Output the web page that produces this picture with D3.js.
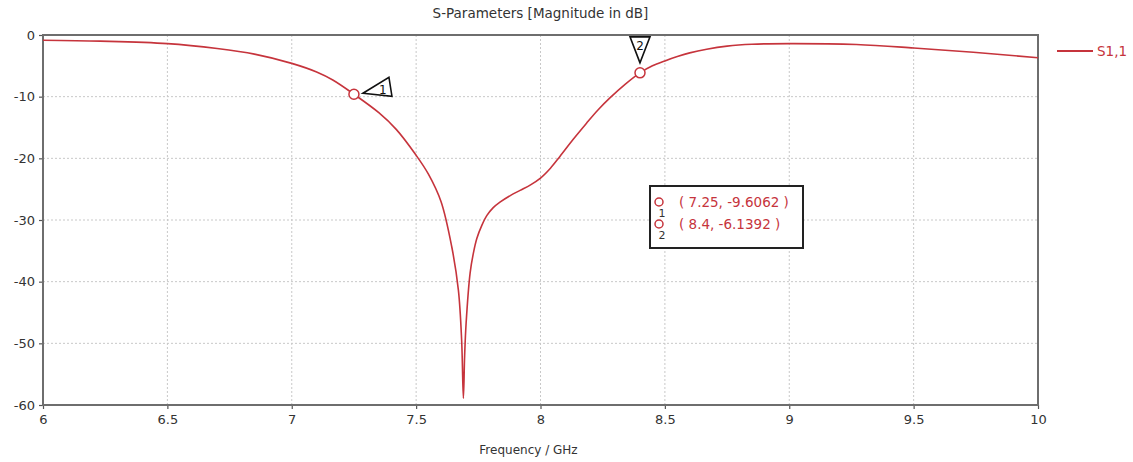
<!DOCTYPE html>
<html>
<head>
<meta charset="utf-8">
<script src="https://cdn.jsdelivr.net/npm/d3@7"></script>
<style>
  html, body { margin: 0; padding: 0; background: #fff; }
  svg { display: block; font-family: "DejaVu Sans", Verdana, sans-serif; }
</style>
</head>
<body>
<svg id="chart" width="1133" height="462"></svg>
<script>
// S1,1 reflection coefficient sweep
const freqGHz = [6.0, 6.23, 6.5, 6.7, 6.85, 7.0, 7.1, 7.165, 7.25, 7.35, 7.42, 7.5, 7.55, 7.6,
  7.643, 7.67, 7.683, 7.69, 7.695, 7.701, 7.717, 7.73, 7.744, 7.765, 7.784, 7.81, 7.837, 7.88,
  7.918, 7.96, 8.0, 8.04, 8.078, 8.13, 8.185, 8.23, 8.279, 8.34, 8.4, 8.45, 8.5, 8.55, 8.6,
  8.668, 8.75, 8.85, 9.0, 9.27, 9.5, 9.74, 10.0];
const s11dB = [-0.85, -1.0, -1.4, -2.2, -3.1, -4.6, -6.0, -7.3, -9.6062, -12.6, -15.3, -19.5, -22.6, -27.0,
  -34.3, -41.4, -49.5, -58.9, -52.0, -46.7, -38.6, -35.4, -33.0, -30.8, -29.3, -28.0, -27.1, -26.0,
  -25.2, -24.3, -23.2, -21.6, -19.7, -17.0, -14.3, -12.2, -10.2, -8.0, -6.1392, -5.0, -4.2, -3.5, -2.9,
  -2.3, -1.8, -1.5, -1.4, -1.55, -2.1, -2.8, -3.7];

// Marker readouts
const markerIds = ["1", "2"];
const markerFreq = [7.25, 8.4];
const markerVal = [-9.6062, -6.1392];

const xTicks = [6, 6.5, 7, 7.5, 8, 8.5, 9, 9.5, 10];
const yTicks = [0, -10, -20, -30, -40, -50, -60];

const seriesName = "S1,1";
const titleText = "S-Parameters [Magnitude in dB]";
const xLabel = "Frequency / GHz";

const curveColor = "#c6343c";
const textColor = "#333";

const svg = d3.select("#chart");
const W = 1133, H = 462;
const m = { left: 43, top: 35, right: 95, bottom: 57 };
const pw = W - m.left - m.right, ph = H - m.top - m.bottom;

const x = d3.scaleLinear().domain([6, 10]).range([m.left, m.left + pw]);
const y = d3.scaleLinear().domain([-60, 0]).range([m.top + ph, m.top]);

// Title
svg.append("text").attr("x", m.left + pw / 2).attr("y", 18)
  .attr("text-anchor", "middle").attr("font-size", 13.5).attr("fill", textColor)
  .text(titleText);

// Grid
const grid = svg.append("g");
grid.selectAll("line.gx").data(xTicks.slice(1, -1)).join("line")
  .attr("x1", d => x(d)).attr("x2", d => x(d))
  .attr("y1", m.top).attr("y2", m.top + ph)
  .attr("stroke", "#c8c8c8").attr("stroke-width", 1).attr("stroke-dasharray", "2,2");
grid.selectAll("line.gy").data(yTicks.slice(1, -1)).join("line")
  .attr("x1", m.left).attr("x2", m.left + pw)
  .attr("y1", d => y(d)).attr("y2", d => y(d))
  .attr("stroke", "#c8c8c8").attr("stroke-width", 1).attr("stroke-dasharray", "2,2");

// Axes
const xAxis = d3.axisBottom(x).tickValues(xTicks).tickSize(4).tickPadding(6)
  .tickFormat(d3.format("~g"));
const yAxis = d3.axisLeft(y).tickValues(yTicks).tickSize(4).tickPadding(4)
  .tickFormat(d => d3.format("~g")(d).replace("−", "-"));

const gx = svg.append("g").attr("transform", `translate(0,${m.top + ph})`).call(xAxis);
const gy = svg.append("g").attr("transform", `translate(${m.left},0)`).call(yAxis);
[gx, gy].forEach(g => {
  g.select(".domain").remove();
  g.selectAll(".tick line").attr("stroke", "#555").attr("stroke-width", 1.2);
  g.selectAll(".tick text").attr("fill", textColor).attr("font-size", 13)
    .attr("font-family", "DejaVu Sans, Verdana, sans-serif");
});

// Frame
svg.append("rect").attr("x", m.left).attr("y", m.top).attr("width", pw).attr("height", ph)
  .attr("fill", "none").attr("stroke", "#6e6e6e").attr("stroke-width", 2);

// X label
svg.append("text").attr("x", m.left + pw / 2 - 12).attr("y", 454)
  .attr("text-anchor", "middle").attr("font-size", 12).attr("fill", textColor)
  .text(xLabel);

// Curve
const pts = freqGHz.map((f, i) => [f, s11dB[i]]);
const line = d3.line().x(d => x(d[0])).y(d => y(d[1])).curve(d3.curveCatmullRom.alpha(0.5));
svg.append("path").datum(pts).attr("d", line)
  .attr("fill", "none").attr("stroke", curveColor).attr("stroke-width", 1.6);

// Markers on curve with flag labels
const flags = svg.append("g");
markerIds.forEach((id, i) => {
  const cx = x(markerFreq[i]), cy = y(markerVal[i]);
  if (i === 0) {
    // flag pointing left at the marker
    const tip = [cx + 9, cy - 1];
    flags.append("path")
      .attr("d", `M${tip[0]},${tip[1]} L${tip[0] + 26},${tip[1] - 16} L${tip[0] + 29},${tip[1] + 3} Z`)
      .attr("fill", "#fff").attr("stroke", "#111").attr("stroke-width", 1.6);
    flags.append("text").attr("x", tip[0] + 20).attr("y", tip[1] + 1)
      .attr("text-anchor", "middle").attr("font-size", 12).attr("fill", "#111").text(id);
  } else {
    // flag pointing down at the marker
    const tip = [cx, cy - 10];
    flags.append("path")
      .attr("d", `M${tip[0]},${tip[1]} L${tip[0] - 10},${tip[1] - 26} L${tip[0] + 10},${tip[1] - 26} Z`)
      .attr("fill", "#fff").attr("stroke", "#111").attr("stroke-width", 1.6);
    flags.append("text").attr("x", tip[0]).attr("y", tip[1] - 13)
      .attr("text-anchor", "middle").attr("font-size", 12).attr("fill", "#111").text(id);
  }
  flags.append("circle").attr("cx", cx).attr("cy", cy).attr("r", 5)
    .attr("fill", "#fff").attr("stroke", curveColor).attr("stroke-width", 1.5);
});

// Marker readout box
const bx = 650, by = 186, bw = 153, bh = 62;
const box = svg.append("g");
box.append("rect").attr("x", bx).attr("y", by).attr("width", bw).attr("height", bh)
  .attr("fill", "#fff").attr("stroke", "#222").attr("stroke-width", 2);
markerIds.forEach((id, i) => {
  const rowY = by + 16 + i * 22;
  box.append("circle").attr("cx", bx + 9).attr("cy", rowY).attr("r", 4)
    .attr("fill", "none").attr("stroke", curveColor).attr("stroke-width", 1.5);
  box.append("text").attr("x", bx + 12).attr("y", rowY + 15)
    .attr("text-anchor", "middle").attr("font-size", 11).attr("fill", "#333").text(id);
  box.append("text").attr("x", bx + 29).attr("y", rowY + 5)
    .attr("font-size", 13.5).attr("fill", curveColor)
    .text(`( ${markerFreq[i]}, ${markerVal[i]} )`);
});

// Legend
const lg = svg.append("g");
lg.append("line").attr("x1", 1057).attr("x2", 1093).attr("y1", 51).attr("y2", 51)
  .attr("stroke", curveColor).attr("stroke-width", 1.8);
lg.append("text").attr("x", 1097).attr("y", 56).attr("font-size", 13.5)
  .attr("fill", curveColor).text(seriesName);
</script>
</body>
</html>
